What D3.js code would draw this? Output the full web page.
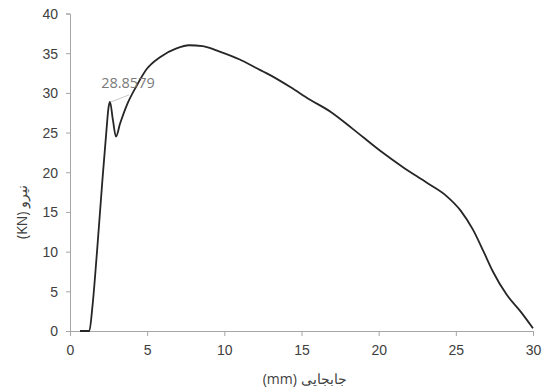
<!DOCTYPE html>
<html>
<head>
<meta charset="utf-8">
<script src="https://cdn.jsdelivr.net/npm/d3@7"></script>
<style>
  body { margin: 0; background: #fff; }
  svg { font-family: "Open Sans", sans-serif; }
  .axis path, .axis line { stroke: #a6a6a6; }
  .axis text { fill: #404040; font-size: 14px; }
</style>
</head>
<body>
<div id="chart"></div>
<script>
// displacement (mm)
var dispValues = [0.65, 1.25, 1.45, 1.75, 2.1, 2.35, 2.5, 2.59, 2.78, 2.98, 3.24, 3.67, 4.32, 4.97, 5.83, 6.9, 7.7, 8.6, 9.7, 11.0, 12.0, 13.0, 14.3, 15.5, 16.9, 18.3, 20.1, 21.6, 23.1, 24.4, 25.3, 26.1, 26.8, 27.4, 28.3, 29.2, 30.0];
// force (KN)
var forceValues = [0, 0, 3, 10, 19, 25, 28.2, 28.8579, 26.6, 24.5, 26.1, 28.4, 30.9, 33.0, 34.5, 35.6, 36.0, 35.9, 35.2, 34.2, 33.2, 32.2, 30.7, 29.2, 27.6, 25.5, 22.7, 20.6, 18.7, 17.0, 15.2, 12.8, 10.0, 7.5, 4.56, 2.44, 0.34];
var xTicks = [0, 5, 10, 15, 20, 25, 30];
var yTicks = [0, 5, 10, 15, 20, 25, 30, 35, 40];
var peakLabel = "28.8579";

var width = 547, height = 387;
var margin = {top: 13.5, right: 14, bottom: 56, left: 70};
var chartW = width - margin.left - margin.right,
    chartH = height - margin.top - margin.bottom;

var svg = d3.select("#chart").append("svg")
    .attr("width", width)
    .attr("height", height);

var g = svg.append("g")
    .attr("transform", "translate(" + margin.left + "," + margin.top + ")");

var x = d3.scaleLinear().domain([0, 30]).range([0, chartW]);
var y = d3.scaleLinear().domain([0, 40]).range([chartH, 0]);

var data = dispValues.map(function(d, i) { return {x: d, y: forceValues[i]}; });

// y axis
g.append("g")
    .attr("class", "axis")
    .call(d3.axisLeft(y).tickValues(yTicks).tickSize(4).tickSizeOuter(4).tickPadding(8))
    .call(function(a) { a.selectAll(".tick text").attr("dy", "0.35em"); });

// x axis
g.append("g")
    .attr("class", "axis")
    .attr("transform", "translate(0," + chartH + ")")
    .call(d3.axisBottom(x).tickValues(xTicks).tickSize(5).tickSizeOuter(5).tickPadding(9));

// curve
var line = d3.line()
    .x(function(d) { return x(d.x); })
    .y(function(d) { return y(d.y); })
    .curve(d3.curveMonotoneX);

g.append("path")
    .datum(data)
    .attr("fill", "none")
    .attr("stroke", "#262626")
    .attr("stroke-width", 1.8)
    .attr("stroke-linejoin", "round")
    .attr("d", line);

// peak label with leader line
var peak = data[7];
g.append("line")
    .attr("x1", x(peak.x) + 1)
    .attr("y1", y(peak.y))
    .attr("x2", x(peak.x) + 19)
    .attr("y2", y(peak.y) - 7)
    .attr("stroke", "#c8c8c8")
    .attr("stroke-width", 1);

g.append("text")
    .attr("x", x(peak.x) + 18)
    .attr("y", y(peak.y) - 14)
    .attr("text-anchor", "middle")
    .attr("fill", "#7a7a7a")
    .attr("font-size", "14.5px")
    .text(peakLabel);

// axis titles
svg.append("text")
    .attr("x", margin.left + x(15.2))
    .attr("y", 384)
    .attr("text-anchor", "middle")
    .attr("fill", "#404040")
    .attr("font-size", "14px")
    .text("(mm) جابجایی");

svg.append("text")
    .attr("transform", "translate(27," + (margin.top + y(15)) + ") rotate(-90)")
    .attr("text-anchor", "middle")
    .attr("fill", "#404040")
    .attr("font-size", "14px")
    .text("(KN) نیرو");
</script>
</body>
</html>
